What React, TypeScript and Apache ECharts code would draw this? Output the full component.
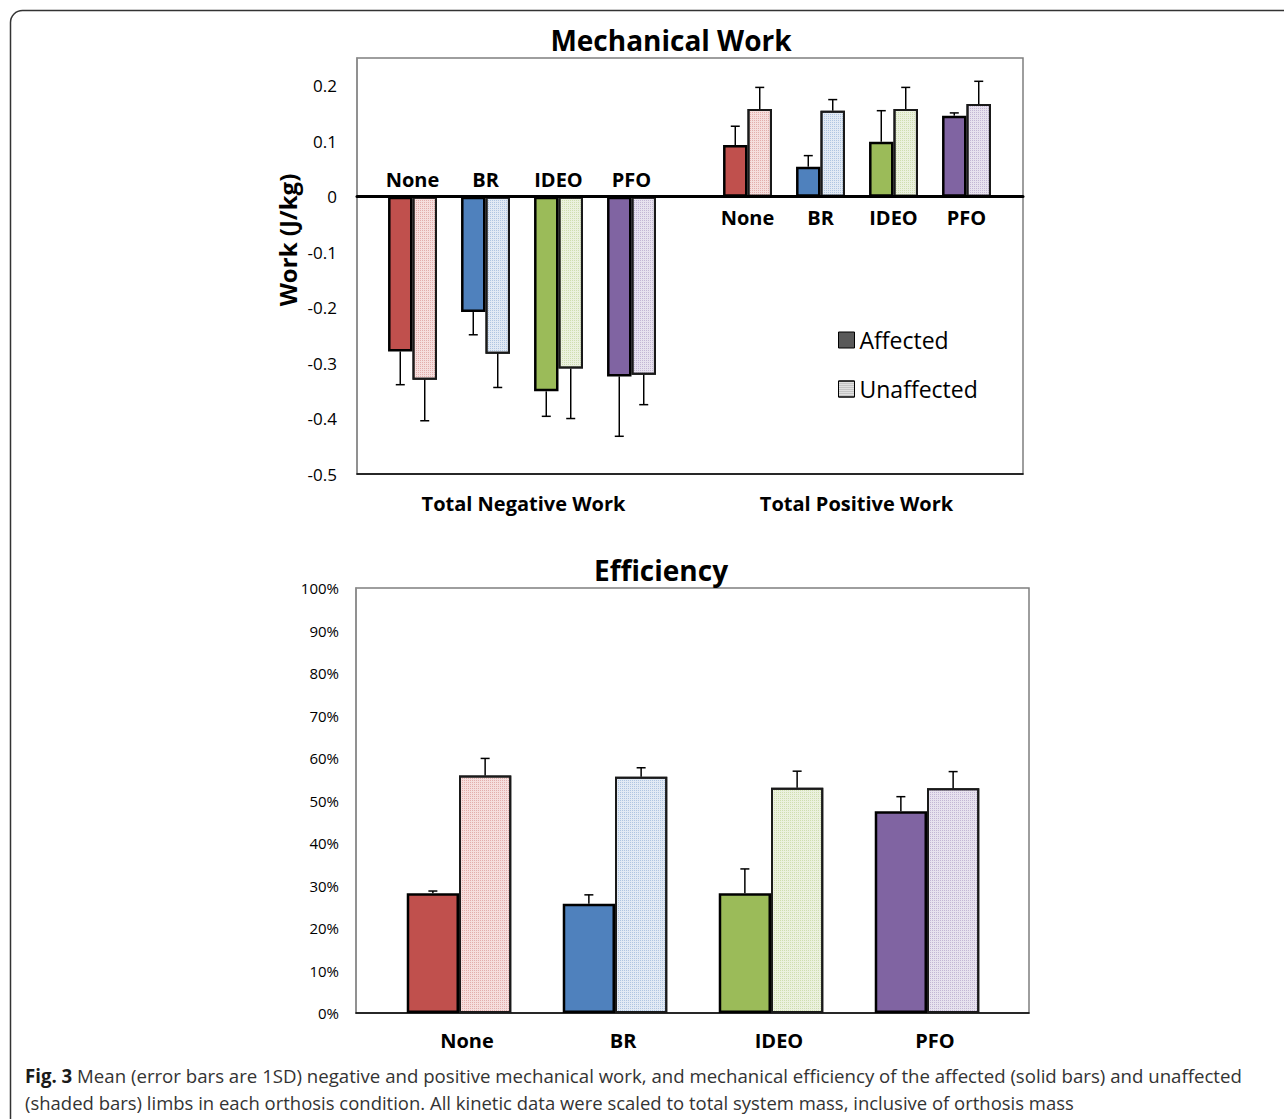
import React, { useEffect, useRef } from 'react';
import * as echarts from 'echarts';

// ---------- data ----------
const conditions = ['None', 'BR', 'IDEO', 'PFO'];
const workCategories = ['Total Negative Work', 'Total Positive Work'];

const negAffected = [-0.279, -0.208, -0.351, -0.324];
const negAffectedSD = [0.06, 0.041, 0.045, 0.108];
const negUnaffected = [-0.33, -0.283, -0.31, -0.321];
const negUnaffectedSD = [0.074, 0.061, 0.09, 0.054];

const posAffected = [0.093, 0.054, 0.099, 0.146];
const posAffectedSD = [0.034, 0.02, 0.056, 0.005];
const posUnaffected = [0.158, 0.155, 0.158, 0.167];
const posUnaffectedSD = [0.039, 0.02, 0.039, 0.041];

const effAffected = [28.2, 25.7, 28.2, 47.5];
const effAffectedSD = [0.5, 2.1, 5.7, 3.4];
const effUnaffected = [55.9, 55.6, 53.0, 52.9];
const effUnaffectedSD = [4.0, 2.1, 3.9, 3.9];

const captionBold = 'Fig. 3';
const captionLine1 =
  ' Mean (error bars are 1SD) negative and positive mechanical work, and mechanical efficiency of the affected (solid bars) and unaffected';
const captionLine2 =
  '(shaded bars) limbs in each orthosis condition. All kinetic data were scaled to total system mass, inclusive of orthosis mass';

// ---------- styles ----------
const FONT = '"Open Sans", "Noto Sans", sans-serif';
const solidColors = ['#C0504D', '#4F81BD', '#9BBB59', '#8064A2'];
const shadeColors = ['#F5DEDD', '#E2EAF4', '#EBF1DF', '#E7E2EE'];
const shadeDots = [
  'rgba(192,80,77,0.35)',
  'rgba(79,129,189,0.35)',
  'rgba(155,187,89,0.35)',
  'rgba(128,100,162,0.35)',
];
const BAR_FRAC = 0.67;

function decal(color: string) {
  return {
    symbol: 'rect',
    symbolSize: 1,
    dashArrayX: [1, 1],
    dashArrayY: [1, 1],
    color,
  };
}

function solidData(vals: number[]) {
  return vals.map((v, i) => ({ value: v, itemStyle: { color: solidColors[i] } }));
}
function shadeData(vals: number[]) {
  return vals.map((v, i) => ({
    value: v,
    itemStyle: { color: shadeColors[i], decal: decal(shadeDots[i]) },
  }));
}

function barSeries(name: string, data: any[], xi: number, yi: number, solid: boolean) {
  return {
    type: 'bar',
    name,
    xAxisIndex: xi,
    yAxisIndex: yi,
    barGap: '0%',
    barCategoryGap: '33%',
    z: 2,
    itemStyle: solid
      ? { color: '#595959', borderColor: '#000', borderWidth: 2.5 }
      : { color: '#E0E0E0', borderColor: '#1a1a1a', borderWidth: 2, decal: decal('rgba(0,0,0,0.25)') },
    data,
  };
}

function errorSeries(means: number[], sds: number[], side: number, xi: number, yi: number) {
  return {
    type: 'custom',
    xAxisIndex: xi,
    yAxisIndex: yi,
    silent: true,
    z: 5,
    data: means.map((m, i) => [i, m, sds[i]]),
    renderItem: (params: any, api: any) => {
      const i = api.value(0);
      const m = api.value(1);
      const sd = api.value(2);
      const dir = m < 0 ? -1 : 1;
      const start = api.coord([i, m]);
      const end = api.coord([i, m + dir * sd]);
      const catW = api.size([1, 0])[0];
      const bw = (catW * BAR_FRAC) / 2;
      const x = start[0] + (side * bw) / 2;
      const st = { stroke: '#000', lineWidth: 1.5 };
      return {
        type: 'group',
        children: [
          { type: 'line', shape: { x1: x, y1: start[1], x2: x, y2: end[1] }, style: st },
          { type: 'line', shape: { x1: x - 4.5, y1: end[1], x2: x + 4.5, y2: end[1] }, style: st },
        ],
      };
    },
  };
}

function measure(text: string, font: string) {
  const c = document.createElement('canvas').getContext('2d')!;
  c.font = font;
  return c.measureText(text).width;
}

function hiddenValueAxis(gridIndex: number, min: number, max: number) {
  return {
    gridIndex,
    type: 'value',
    min,
    max,
    show: true,
    axisLine: { show: false },
    axisTick: { show: false },
    axisLabel: { show: false },
    splitLine: { show: false },
  };
}

function buildOption() {
  const capSize = 19;
  const boldFont = `bold ${capSize}px "Open Sans", "Noto Sans", sans-serif`;
  const regFont = `${capSize}px "Open Sans", "Noto Sans", sans-serif`;
  const wBold = measure(captionBold, boldFont);
  const w1 = wBold + measure(captionLine1, regFont);
  const w2 = measure(captionLine2, regFont);
  const s1 = 1217 / w1;
  const s2 = 1049 / w2;

  const catLabel = (margin: number, extra: any = {}) => ({
    fontFamily: FONT,
    fontSize: 20,
    fontWeight: 'bold',
    color: '#000',
    margin,
    ...extra,
  });

  const labelOnlyAxis = (gridIndex: number, position: string, margin: number) => ({
    gridIndex,
    type: 'category',
    position,
    data: conditions,
    axisLine: { show: false },
    axisTick: { show: false },
    axisLabel: catLabel(margin),
  });

  const barAxis = (gridIndex: number) => ({
    gridIndex,
    type: 'category',
    position: 'bottom',
    data: conditions,
    axisLine: { show: false },
    axisTick: { show: false },
    axisLabel: { show: false },
  });

  return {
    animation: false,
    backgroundColor: '#fff',
    grid: [
      { left: 357, top: 58, width: 666, height: 416, show: true, borderColor: '#7f7f7f', borderWidth: 1.5 },
      { left: 376, top: 58, width: 292, height: 416 },
      { left: 711, top: 58, width: 292, height: 416 },
      { left: 356, top: 588, width: 673, height: 425, show: true, borderColor: '#7f7f7f', borderWidth: 1.5 },
      { left: 381, top: 588, width: 624, height: 425 },
      // label-only grids whose edge sits on the zero line
      { left: 376, top: 196, width: 292, height: 100 },
      { left: 711, top: 96, width: 292, height: 100 },
    ],
    xAxis: [
      {
        gridIndex: 0,
        type: 'category',
        position: 'bottom',
        data: workCategories,
        axisLine: { onZero: false, lineStyle: { color: '#000', width: 1.5 } },
        axisTick: { show: false },
        axisLabel: catLabel(19),
      },
      {
        gridIndex: 0,
        type: 'category',
        position: 'top',
        data: workCategories,
        z: 3,
        axisLine: { onZero: true, lineStyle: { color: '#000', width: 3 } },
        axisTick: { show: false },
        axisLabel: { show: false },
      },
      barAxis(1),
      barAxis(2),
      {
        gridIndex: 3,
        type: 'category',
        position: 'bottom',
        data: [''],
        axisLine: { lineStyle: { color: '#000', width: 1.5 } },
        axisTick: { show: false },
        axisLabel: { show: false },
      },
      {
        gridIndex: 4,
        type: 'category',
        position: 'bottom',
        data: conditions,
        axisLine: { show: false },
        axisTick: { show: false },
        axisLabel: catLabel(17, { padding: [0, 0, 0, 16] }),
      },
      labelOnlyAxis(5, 'top', 7),
      labelOnlyAxis(6, 'bottom', 11),
    ],
    yAxis: [
      {
        gridIndex: 0,
        type: 'value',
        min: -0.5,
        max: 0.25,
        interval: 0.1,
        axisLine: { show: true, lineStyle: { color: '#8c8c8c', width: 1.5 } },
        axisTick: { show: false },
        splitLine: { show: false },
        axisLabel: {
          fontFamily: FONT,
          fontSize: 17,
          color: '#000',
          margin: 20,
          showMaxLabel: false,
          formatter: (v: number) => String(Math.round(v * 10) / 10),
        },
      },
      hiddenValueAxis(1, -0.5, 0.25),
      hiddenValueAxis(2, -0.5, 0.25),
      {
        gridIndex: 3,
        type: 'value',
        min: 0,
        max: 100,
        interval: 10,
        axisLine: { show: true, lineStyle: { color: '#8c8c8c', width: 1.5 } },
        axisTick: { show: false },
        splitLine: { show: false },
        axisLabel: {
          fontFamily: FONT,
          fontSize: 15,
          color: '#000',
          margin: 17,
          formatter: (v: number) => `${Math.round(v)}%`,
        },
      },
      hiddenValueAxis(4, 0, 100),
      hiddenValueAxis(5, 0, 1),
      hiddenValueAxis(6, 0, 1),
    ],
    legend: {
      orient: 'vertical',
      left: 838,
      top: 326,
      padding: 0,
      itemWidth: 16,
      itemHeight: 16,
      itemGap: 21,
      icon: 'rect',
      textStyle: { fontFamily: FONT, fontSize: 23, color: '#000', lineHeight: 28 },
      data: [
        { name: 'Affected', itemStyle: { color: '#595959', borderColor: '#000', borderWidth: 1 } },
        {
          name: 'Unaffected',
          itemStyle: { color: '#E0E0E0', borderColor: '#000', borderWidth: 1, decal: decal('rgba(0,0,0,0.25)') },
        },
      ],
    },
    series: [
      barSeries('Affected', solidData(negAffected), 2, 1, true),
      barSeries('Unaffected', shadeData(negUnaffected), 2, 1, false),
      errorSeries(negAffected, negAffectedSD, -1, 2, 1),
      errorSeries(negUnaffected, negUnaffectedSD, 1, 2, 1),
      barSeries('Affected', solidData(posAffected), 3, 2, true),
      barSeries('Unaffected', shadeData(posUnaffected), 3, 2, false),
      errorSeries(posAffected, posAffectedSD, -1, 3, 2),
      errorSeries(posUnaffected, posUnaffectedSD, 1, 3, 2),
      barSeries('Affected', solidData(effAffected), 5, 4, true),
      barSeries('Unaffected', shadeData(effUnaffected), 5, 4, false),
      errorSeries(effAffected, effAffectedSD, -1, 5, 4),
      errorSeries(effUnaffected, effUnaffectedSD, 1, 5, 4),
    ],
    graphic: [
      {
        type: 'rect',
        silent: true,
        z: -10,
        shape: { x: 10.5, y: 10.5, width: 1300, height: 1140, r: 12 },
        style: { fill: 'none', stroke: '#333', lineWidth: 1.5 },
      },
      {
        type: 'text',
        x: 671,
        y: 40,
        style: {
          text: 'Mechanical Work',
          align: 'center',
          verticalAlign: 'middle',
          fontFamily: FONT,
          fontSize: 28,
          fontWeight: 'bold',
          fill: '#000',
        },
      },
      {
        type: 'text',
        x: 661,
        y: 570,
        style: {
          text: 'Efficiency',
          align: 'center',
          verticalAlign: 'middle',
          fontFamily: FONT,
          fontSize: 28,
          fontWeight: 'bold',
          fill: '#000',
        },
      },
      {
        type: 'text',
        x: 287,
        y: 240,
        rotation: Math.PI / 2,
        style: {
          text: 'Work (J/kg)',
          align: 'center',
          verticalAlign: 'middle',
          fontFamily: FONT,
          fontSize: 24,
          fontWeight: 'bold',
          fill: '#000',
        },
      },
      {
        type: 'group',
        x: 25,
        y: 1076,
        scaleX: s1,
        children: [
          {
            type: 'text',
            x: 0,
            y: 0,
            style: {
              text: captionBold,
              verticalAlign: 'middle',
              fontFamily: FONT,
              fontSize: capSize,
              fontWeight: 'bold',
              fill: '#1a1a1a',
            },
          },
          {
            type: 'text',
            x: wBold,
            y: 0,
            style: {
              text: captionLine1,
              verticalAlign: 'middle',
              fontFamily: FONT,
              fontSize: capSize,
              fill: '#333',
            },
          },
        ],
      },
      {
        type: 'group',
        x: 25,
        y: 1102,
        scaleX: s2,
        children: [
          {
            type: 'text',
            x: 0,
            y: 0,
            style: {
              text: captionLine2,
              verticalAlign: 'middle',
              fontFamily: FONT,
              fontSize: capSize,
              fill: '#333',
            },
          },
        ],
      },
    ],
  };
}

export default function App() {
  const ref = useRef<HTMLDivElement>(null);
  useEffect(() => {
    const chart = echarts.init(ref.current!, null, { renderer: 'svg' });
    chart.setOption(buildOption() as any);
    return () => chart.dispose();
  }, []);
  return (
    <div
      ref={ref}
      style={{ position: 'absolute', left: 0, top: 0, width: 1284, height: 1119 }}
    />
  );
}
